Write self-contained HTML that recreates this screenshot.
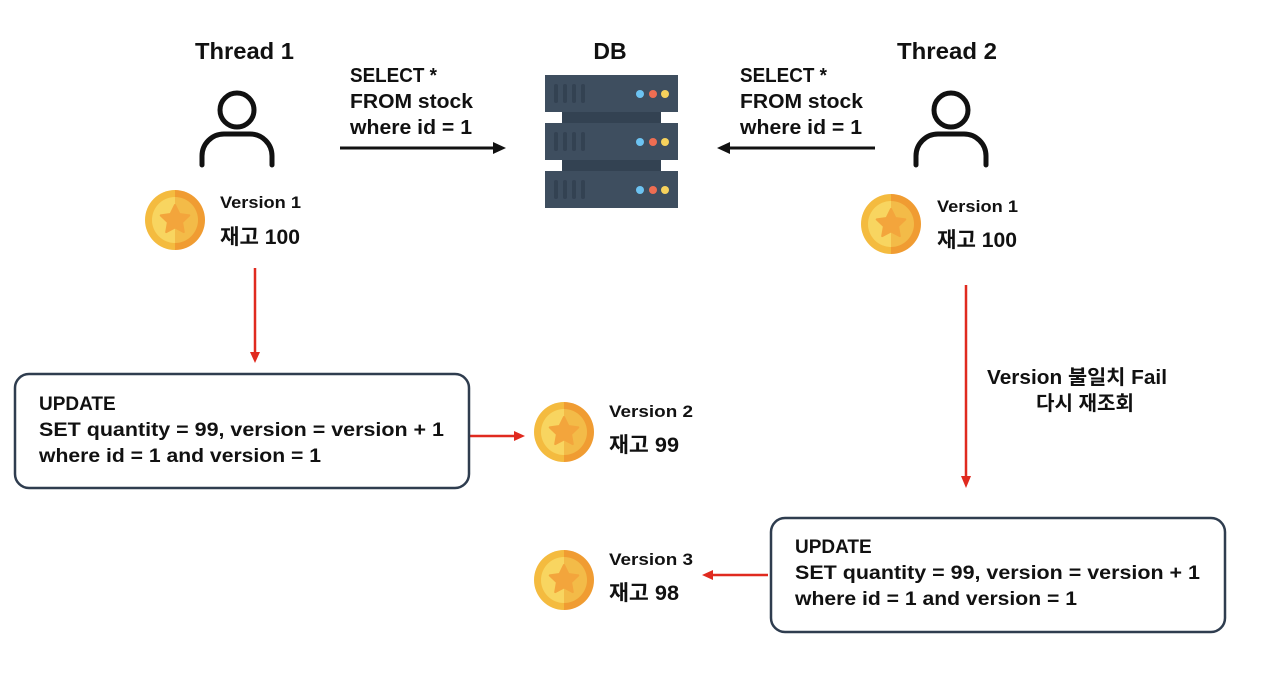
<!DOCTYPE html>
<html><head><meta charset="utf-8"><style>
html,body{margin:0;padding:0;background:#fff;}
svg{display:block;}
text{font-family:"Liberation Sans","Noto Sans CJK KR",sans-serif;font-weight:bold;fill:#111;}
</style></head><body>
<svg width="1280" height="676" viewBox="0 0 1280 676" xmlns="http://www.w3.org/2000/svg">
<defs>
<g id="coin">
  <path d="M0,-30 A30,30 0 0 0 0,30 Z" fill="#f4bb3f"/>
  <path d="M0,-30 A30,30 0 0 1 0,30 Z" fill="#f09c32"/>
  <path d="M0,-23 A23,23 0 0 0 0,23 Z" fill="#f8d560"/>
  <path d="M0,-23 A23,23 0 0 1 0,23 Z" fill="#f3bb48"/>
  <polygon points="0,-15 4.4,-6 14.3,-4.6 7.1,2.3 8.8,12.1 0,7.5 -8.8,12.1 -7.1,2.3 -14.3,-4.6 -4.4,-6" fill="#f3a53c" stroke="#f3a53c" stroke-width="2" stroke-linejoin="round"/>
</g>
<g id="person" fill="none" stroke="#111" stroke-width="5" stroke-linecap="round">
  <circle cx="0" cy="-38" r="17"/>
  <path d="M-35,17 V8 A22,22 0 0 1 -13,-14 H13 A22,22 0 0 1 35,8 V17"/>
</g>
<g id="rack">
  <rect x="0" y="0" width="133" height="37" fill="#3e4e5f"/>
  <rect x="9" y="9" width="4" height="19" rx="2" fill="#334252"/>
  <rect x="18" y="9" width="4" height="19" rx="2" fill="#334252"/>
  <rect x="27" y="9" width="4" height="19" rx="2" fill="#334252"/>
  <rect x="36" y="9" width="4" height="19" rx="2" fill="#334252"/>
  <circle cx="95" cy="19" r="4" fill="#6cc3f2"/>
  <circle cx="108" cy="19" r="4" fill="#ee6d52"/>
  <circle cx="120" cy="19" r="4" fill="#f7d25c"/>
</g>
</defs>

<text x="195" y="59" font-size="23" textLength="99" lengthAdjust="spacingAndGlyphs">Thread 1</text>
<text x="610" y="59" font-size="23" text-anchor="middle">DB</text>
<text x="897" y="59" font-size="23" textLength="100" lengthAdjust="spacingAndGlyphs">Thread 2</text>

<use href="#person" x="237" y="148"/>
<use href="#person" x="951" y="148"/>

<rect x="562" y="110" width="99" height="15" fill="#334252"/>
<rect x="562" y="158" width="99" height="15" fill="#334252"/>
<use href="#rack" x="545" y="75"/>
<use href="#rack" x="545" y="123"/>
<use href="#rack" x="545" y="171"/>

<text font-size="20"><tspan x="350" y="82" textLength="87" lengthAdjust="spacingAndGlyphs">SELECT *</tspan><tspan x="350" y="108" textLength="123" lengthAdjust="spacingAndGlyphs">FROM stock</tspan><tspan x="350" y="134" textLength="122" lengthAdjust="spacingAndGlyphs">where id = 1</tspan></text>
<text font-size="20"><tspan x="740" y="82" textLength="87" lengthAdjust="spacingAndGlyphs">SELECT *</tspan><tspan x="740" y="108" textLength="123" lengthAdjust="spacingAndGlyphs">FROM stock</tspan><tspan x="740" y="134" textLength="122" lengthAdjust="spacingAndGlyphs">where id = 1</tspan></text>

<line x1="340" y1="148" x2="495" y2="148" stroke="#111" stroke-width="3"/>
<polygon points="506,148 493,142 493,154" fill="#111"/>
<line x1="875" y1="148" x2="728" y2="148" stroke="#111" stroke-width="3"/>
<polygon points="717,148 730,142 730,154" fill="#111"/>

<use href="#coin" x="175" y="220"/>
<text x="220" y="208" font-size="17" textLength="81" lengthAdjust="spacingAndGlyphs">Version 1</text>
<text x="220" y="244" font-size="21" textLength="80" lengthAdjust="spacingAndGlyphs">재고 100</text>

<use href="#coin" x="891" y="224"/>
<text x="937" y="212" font-size="17" textLength="81" lengthAdjust="spacingAndGlyphs">Version 1</text>
<text x="937" y="247" font-size="21" textLength="80" lengthAdjust="spacingAndGlyphs">재고 100</text>

<use href="#coin" x="564" y="432"/>
<text x="609" y="417" font-size="17" textLength="84" lengthAdjust="spacingAndGlyphs">Version 2</text>
<text x="609" y="452" font-size="21" textLength="70" lengthAdjust="spacingAndGlyphs">재고 99</text>

<use href="#coin" x="564" y="580"/>
<text x="609" y="565" font-size="17" textLength="84" lengthAdjust="spacingAndGlyphs">Version 3</text>
<text x="609" y="600" font-size="21" textLength="70" lengthAdjust="spacingAndGlyphs">재고 98</text>

<g stroke="#e02a1f" stroke-width="2.5">
<line x1="255" y1="268" x2="255" y2="354"/>
<line x1="470" y1="436" x2="516" y2="436"/>
<line x1="966" y1="285" x2="966" y2="478"/>
<line x1="768" y1="575" x2="712" y2="575"/>
</g>
<g fill="#e02a1f">
<polygon points="255,363 250,352 260,352"/>
<polygon points="525,436 514,431 514,441"/>
<polygon points="966,488 961,476 971,476"/>
<polygon points="702,575 713,570 713,580"/>
</g>

<text font-size="20"><tspan x="987" y="384" textLength="180" lengthAdjust="spacingAndGlyphs">Version 불일치 Fail</tspan><tspan x="1036" y="410" textLength="98" lengthAdjust="spacingAndGlyphs">다시 재조회</tspan></text>

<rect x="15" y="374" width="454" height="114" rx="14" fill="#fff" stroke="#2f3d4f" stroke-width="2.5"/>
<text font-size="19"><tspan x="39" y="410">UPDATE</tspan><tspan x="39" y="436" textLength="405" lengthAdjust="spacingAndGlyphs">SET quantity = 99, version = version + 1</tspan><tspan x="39" y="462" textLength="282" lengthAdjust="spacingAndGlyphs">where id = 1 and version = 1</tspan></text>

<rect x="771" y="518" width="454" height="114" rx="14" fill="#fff" stroke="#2f3d4f" stroke-width="2.5"/>
<text font-size="19"><tspan x="795" y="553">UPDATE</tspan><tspan x="795" y="579" textLength="405" lengthAdjust="spacingAndGlyphs">SET quantity = 99, version = version + 1</tspan><tspan x="795" y="605" textLength="282" lengthAdjust="spacingAndGlyphs">where id = 1 and version = 1</tspan></text>
</svg>
</body></html>
